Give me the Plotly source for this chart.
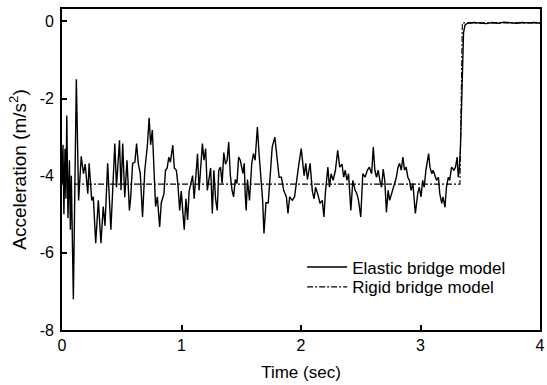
import plotly.graph_objects as go

# Elastic bridge model: time (s) and acceleration (m/s^2)
elastic_t = [0.000, 0.008, 0.016, 0.025, 0.033, 0.040, 0.050, 0.062, 0.070, 0.078, 0.095, 0.103, 0.120,
             0.139, 0.161, 0.180, 0.194, 0.216, 0.227, 0.249, 0.262, 0.282, 0.304, 0.326, 0.345, 0.360,
             0.382, 0.409, 0.442, 0.456, 0.481, 0.494, 0.508, 0.525, 0.544, 0.564, 0.574, 0.591, 0.610,
             0.624, 0.638, 0.655, 0.674, 0.693, 0.715, 0.729, 0.742, 0.756, 0.770, 0.783, 0.798, 0.817,
             0.831, 0.853, 0.866, 0.880, 0.894, 0.907, 0.927, 0.940, 0.957, 0.969, 0.985, 0.998,
             1.010, 1.023, 1.037, 1.051, 1.064, 1.079, 1.093, 1.106, 1.120, 1.134, 1.147, 1.161, 1.175,
             1.188, 1.202, 1.216, 1.230, 1.244, 1.258, 1.271, 1.285, 1.299, 1.312, 1.326, 1.340, 1.354,
             1.368, 1.382, 1.395, 1.409, 1.423, 1.436, 1.450, 1.464, 1.478, 1.492, 1.514, 1.525, 1.533,
             1.541, 1.552, 1.569, 1.588, 1.602, 1.616, 1.635, 1.649, 1.663, 1.679, 1.690, 1.707, 1.726,
             1.745, 1.759, 1.781, 1.800, 1.817, 1.836, 1.855, 1.878, 1.891, 1.905, 1.927, 1.946, 1.965,
             1.982, 2.002, 2.026, 2.040, 2.054, 2.076, 2.095, 2.109, 2.122, 2.142, 2.159, 2.178, 2.192,
             2.205, 2.225, 2.238, 2.252, 2.269, 2.288, 2.307, 2.324, 2.343, 2.357, 2.370, 2.384, 2.398,
             2.417, 2.434, 2.453, 2.467, 2.481, 2.500, 2.517, 2.536, 2.555, 2.572, 2.591, 2.605, 2.618,
             2.632, 2.646, 2.660, 2.674, 2.688, 2.701, 2.715, 2.729, 2.742, 2.764, 2.783, 2.798, 2.812,
             2.825, 2.839, 2.853, 2.866, 2.880, 2.894, 2.907, 2.921, 2.936, 2.957, 2.977, 2.990, 3.004,
             3.018, 3.031, 3.045, 3.068, 3.079, 3.095, 3.106, 3.122, 3.134, 3.150, 3.161, 3.178, 3.188,
             3.205, 3.217, 3.233, 3.244, 3.260, 3.279, 3.293, 3.307, 3.316, 3.326, 3.335, 3.349, 3.360,
             3.372, 3.393, 3.450, 3.500, 3.550, 3.600, 3.650, 3.700, 3.750, 3.800, 3.850, 3.900, 3.950, 4.000]
elastic_a = [-4.20, -3.20, -5.00, -3.30, -4.60, -2.44, -5.10, -3.60, -5.40, -4.00, -7.20, -4.80, -1.50,
             -4.64, -3.50, -3.95, -3.70, -4.47, -3.68, -4.64, -4.55, -5.75, -4.64, -5.75, -4.80, -5.30,
             -3.68, -5.40, -3.17, -4.30, -3.08, -4.38, -3.17, -4.56, -3.60, -4.90, -4.60, -3.68, -3.65,
             -3.17, -3.68, -3.94, -5.07, -3.86, -3.20, -2.50, -3.20, -2.82, -4.00, -4.80, -4.55, -5.33,
             -4.70, -4.47, -3.86, -3.80, -3.52, -3.65, -3.21, -3.80, -3.86, -4.20, -4.90, -4.40,
             -4.90, -5.40, -4.60, -5.15, -4.40, -4.20, -4.00, -4.60, -3.90, -3.43, -4.38, -3.60, -3.17,
             -3.60, -3.30, -4.38, -4.05, -3.80, -4.98, -3.86, -4.60, -4.90, -3.86, -3.78, -4.20, -3.40,
             -3.70, -3.60, -3.13, -4.00, -4.38, -4.55, -4.10, -4.20, -3.52, -3.60, -3.94, -3.68, -4.46,
             -4.90, -4.10, -4.64, -3.68, -3.43, -3.60, -2.74, -3.43, -4.00, -4.64, -5.50, -4.70, -4.70,
             -3.94, -3.26, -3.00, -3.52, -4.04, -4.04, -4.38, -4.55, -4.98, -4.55, -4.64, -4.55, -4.04,
             -3.70, -3.30, -4.00, -3.68, -4.10, -3.68, -4.40, -4.60, -4.30, -4.50, -4.72, -4.64, -5.07,
             -4.40, -3.78, -4.30, -3.95, -4.12, -3.86, -3.34, -3.78, -3.70, -4.04, -3.86, -4.12, -3.95,
             -4.90, -4.12, -4.38, -4.46, -4.64, -5.07, -3.95, -4.04, -3.86, -3.78, -3.95, -3.26, -3.86,
             -4.04, -3.86, -4.12, -4.30, -3.83, -4.12, -4.95, -4.38, -4.64, -4.38, -4.20, -4.04, -3.78,
             -3.68, -3.86, -3.52, -3.86, -3.78, -4.04, -4.12, -4.38, -4.20, -4.98, -4.46, -4.30, -4.55,
             -4.12, -4.30, -3.86, -3.43, -3.78, -3.95, -3.86, -4.04, -4.12, -4.04, -4.46, -4.72, -4.55,
             -4.82, -4.30, -4.04, -4.12, -3.78, -3.86, -3.78, -3.52, -4.04, -3.78, -3.20, -1.50, -0.30,
             -0.10, -0.05, -0.03, -0.04, -0.06, -0.03, -0.05, -0.02, -0.04, -0.05, -0.03, -0.04, -0.03, -0.05]

# Rigid bridge model
rigid_t = [0.0, 3.33, 3.35, 4.0]
rigid_a = [-4.22, -4.22, -0.04, -0.04]

x_ticks = [0, 1, 2, 3, 4]
y_ticks = [-8, -6, -4, -2, 0]

FONT = "Liberation Sans, Arial, sans-serif"
DASHDOT = "6px,2px,2px,2px"

fig = go.Figure()
fig.add_trace(go.Scatter(x=rigid_t, y=rigid_a, mode="lines", name="Rigid bridge model",
                         line=dict(color="black", width=1.1, dash=DASHDOT), showlegend=False))
fig.add_trace(go.Scatter(x=elastic_t, y=elastic_a, mode="lines", name="Elastic bridge model",
                         line=dict(color="black", width=1.4), legend="legend"))
fig.add_trace(go.Scatter(x=[None], y=[None], mode="lines", name="Rigid bridge model",
                         line=dict(color="black", width=1.1, dash=DASHDOT), legend="legend2"))

axis_common = dict(showgrid=False, zeroline=False, showline=True, linecolor="black", linewidth=1.8,
                   mirror=True, ticks="inside", ticklen=5, tickwidth=1.5, tickcolor="black",
                   tickfont=dict(family=FONT, size=16, color="black"))

fig.update_xaxes(range=[0, 4], tickvals=x_ticks, ticktext=[str(v) for v in x_ticks],
                 ticklabeloverflow="allow",
                 title=dict(text="Time (sec)", font=dict(family=FONT, size=17, color="black"), standoff=13),
                 **axis_common)
fig.update_yaxes(range=[-8, 0.32], tickvals=y_ticks, ticktext=[str(v) for v in y_ticks],
                 ticklabelstandoff=3,
                 title=dict(text="Acceleration (m/s<sup>2</sup>)", font=dict(family=FONT, size=19, color="black"),
                            standoff=8),
                 **axis_common)

legend_common = dict(xanchor="left", yanchor="middle", bgcolor="rgba(0,0,0,0)",
                     font=dict(family=FONT, size=17, color="black"), itemwidth=40)

fig.update_layout(
    width=547, height=385,
    margin=dict(l=62, r=2, t=9, b=55),
    paper_bgcolor="white", plot_bgcolor="white",
    font=dict(family=FONT, color="black"),
    legend=dict(x=0.5024, y=0.195, **legend_common),
    legend2=dict(x=0.5024, y=0.133, **legend_common),
)

fig.write_html("out.html")
